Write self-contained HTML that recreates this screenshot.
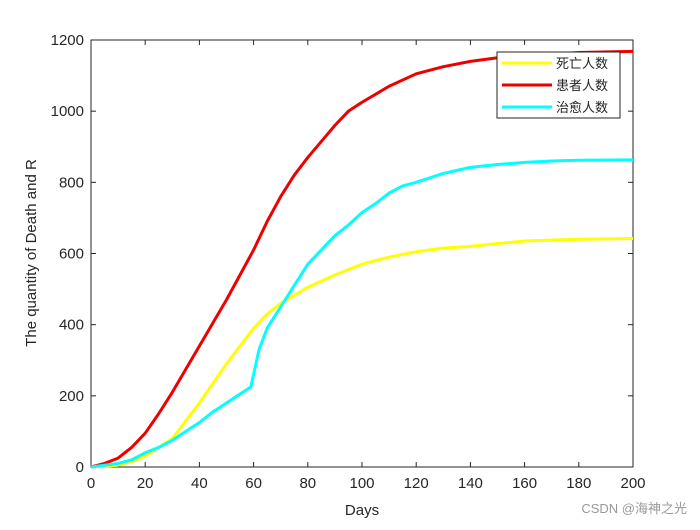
<!DOCTYPE html>
<html><head><meta charset="utf-8"><style>
body{margin:0;background:#fff;width:700px;height:525px;overflow:hidden}
text{font-family:"Liberation Sans",sans-serif}
</style></head><body>
<svg id="chart" width="700" height="525" xmlns="http://www.w3.org/2000/svg">
<rect x="91" y="40" width="542" height="427" fill="#fff" stroke="#262626" stroke-width="1"/>
<g id="ticks"></g>
<g id="series"></g>
<text x="362" y="515" font-size="15" text-anchor="middle" fill="#262626">Days</text>
<text transform="translate(36,253) rotate(-90)" font-size="15" text-anchor="middle" fill="#262626">The quantity of Death and R</text>
<g>
<rect x="497" y="52" width="123" height="66" fill="#fff" stroke="#262626" stroke-width="1"/>
<line x1="502" y1="63" x2="552" y2="63" stroke="#ffff00" stroke-width="3"/>
<text x="556" y="68" font-size="13" font-family="Noto Serif CJK SC,serif" fill="#262626">死亡人数</text>
<line x1="502" y1="85" x2="552" y2="85" stroke="#ee0000" stroke-width="3"/>
<text x="556" y="90" font-size="13" font-family="Noto Serif CJK SC,serif" fill="#262626">患者人数</text>
<line x1="502" y1="107" x2="552" y2="107" stroke="#00ffff" stroke-width="3"/>
<text x="556" y="112" font-size="13" font-family="Noto Serif CJK SC,serif" fill="#262626">治愈人数</text>
</g>
<text x="687" y="513" font-size="13" text-anchor="end" fill="#999" font-family="Liberation Sans,Noto Sans CJK SC,sans-serif">CSDN @海神之光</text>
</svg>
<script>
const xTicks=[0,20,40,60,80,100,120,140,160,180,200];
const yTicks=[0,200,400,600,800,1000,1200];
const redDays=[0,5,10,15,20,25,30,35,40,45,50,55,60,65,70,75,80,85,90,95,100,110,120,130,140,150,160,170,180,200];
const redVals=[0,10,25,55,95,150,210,275,340,405,470,540,610,690,760,820,870,915,960,1000,1025,1070,1105,1125,1140,1150,1155,1160,1165,1168];
const yelDays=[0,10,15,20,25,30,35,40,45,50,55,60,65,70,80,90,100,110,120,130,140,150,160,180,200];
const yelVals=[0,5,15,30,55,80,130,180,235,290,340,390,430,460,505,540,570,590,605,615,620,628,635,640,642];
const cyaDays=[0,10,15,20,25,30,35,40,45,50,55,59,62,65,70,75,80,85,90,95,100,105,110,115,120,130,140,150,160,170,180,200];
const cyaVals=[0,10,20,40,55,75,100,125,155,180,205,225,330,390,450,510,570,610,650,680,715,740,770,790,800,825,842,850,856,860,862,863];
const X=d=>91+d*542/200, Y=v=>467-v*427/1200;
const ns="http://www.w3.org/2000/svg";
const tg=document.getElementById('ticks'), sg=document.getElementById('series');
function mk(t,a,p){const e=document.createElementNS(ns,t);for(const k in a)e.setAttribute(k,a[k]);p.appendChild(e);return e;}
xTicks.forEach(t=>{
 const l=mk('line',{x1:X(t),x2:X(t),y1:467,y2:462,stroke:'#262626'},tg);
 
 
 const l2=mk('line',{x1:X(t),x2:X(t),y1:40,y2:45,stroke:'#262626'},tg);
 
 
 const tx=mk('text',{x:X(t),y:488,'font-size':15,'text-anchor':'middle',fill:'#262626'},tg);tx.textContent=t;
 
 
});
yTicks.forEach(t=>{
 const l=mk('line',{x1:91,x2:96,y1:Y(t),y2:Y(t),stroke:'#262626'},tg);
 
 
 const l2=mk('line',{x1:628,x2:633,y1:Y(t),y2:Y(t),stroke:'#262626'},tg);
 
 
 const tx=mk('text',{x:84,y:Y(t)+5,'font-size':15,'text-anchor':'end',fill:'#262626'},tg);tx.textContent=t;
 
 
});
function line(d,v,c,name){
 const p=mk('polyline',{points:d.map((x,i)=>X(x)+','+Y(v[i])).join(' '),fill:'none',stroke:c,'stroke-width':3,'stroke-linejoin':'round'},sg);
 
 
}
line(yelDays,yelVals,'#ffff00','death-line');
line(redDays,redVals,'#ee0000','patient-line');
line(cyaDays,cyaVals,'#00ffff','recovered-line');
</script>
</body></html>
